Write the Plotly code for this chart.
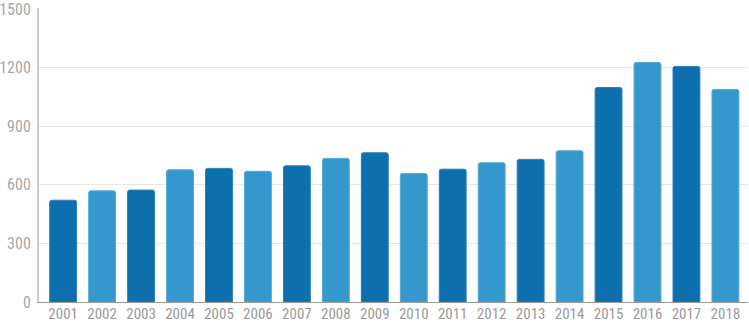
import plotly.graph_objects as go

years = ["2001", "2002", "2003", "2004", "2005", "2006", "2007", "2008", "2009",
         "2010", "2011", "2012", "2013", "2014", "2015", "2016", "2017", "2018"]
values = [521, 569, 573, 677, 684, 669, 697, 735, 764,
          658, 680, 713, 730, 774, 1098, 1226, 1206, 1088]
y_ticks = [0, 300, 600, 900, 1200, 1500]

DARK = "#0e6fae"
LIGHT = "#3598cc"
DARK_EDGE = "#2a7fb8"
LIGHT_EDGE = "#55a9d6"
bar_colors = [DARK if i % 2 == 0 else LIGHT for i in range(len(years))]
edge_colors = [DARK_EDGE if i % 2 == 0 else LIGHT_EDGE for i in range(len(years))]

FONT = "Roboto Condensed, Roboto, sans-serif"

fig = go.Figure(go.Bar(
    x=years, y=values,
    marker=dict(color=bar_colors, line=dict(color=edge_colors, width=1), cornerradius=2),
    hoverinfo="x+y",
))

fig.update_layout(
    template="none",
    width=749, height=325,
    margin=dict(l=39, r=1, t=8, b=23, autoexpand=False),
    paper_bgcolor="white", plot_bgcolor="white",
    bargap=0.31,
    showlegend=False,
    font=dict(family=FONT, color="#a0a0a0"),
    xaxis=dict(
        type="category",
        range=[-0.62, 17.58],
        automargin=False,
        showgrid=False,
        showline=True, linecolor="#9a9a9a", linewidth=1,
        ticks="", tickfont=dict(size=15, color="#9a9a9a", family=FONT),
        ticklabelstandoff=-2,
        ticklabeloverflow="allow",
        fixedrange=True,
    ),
    yaxis=dict(
        range=[0, 1505],
        automargin=False,
        tickvals=y_ticks,
        showgrid=True, gridcolor="#e6e6e6", gridwidth=1,
        showline=True, linecolor="#cccccc", linewidth=2,
        zeroline=False,
        ticks="", tickfont=dict(size=16, color="#a8a8a8", family=FONT),
        ticklabelstandoff=3,
        ticklabeloverflow="allow",
        fixedrange=True,
    ),
)

fig.write_html("out.html")
